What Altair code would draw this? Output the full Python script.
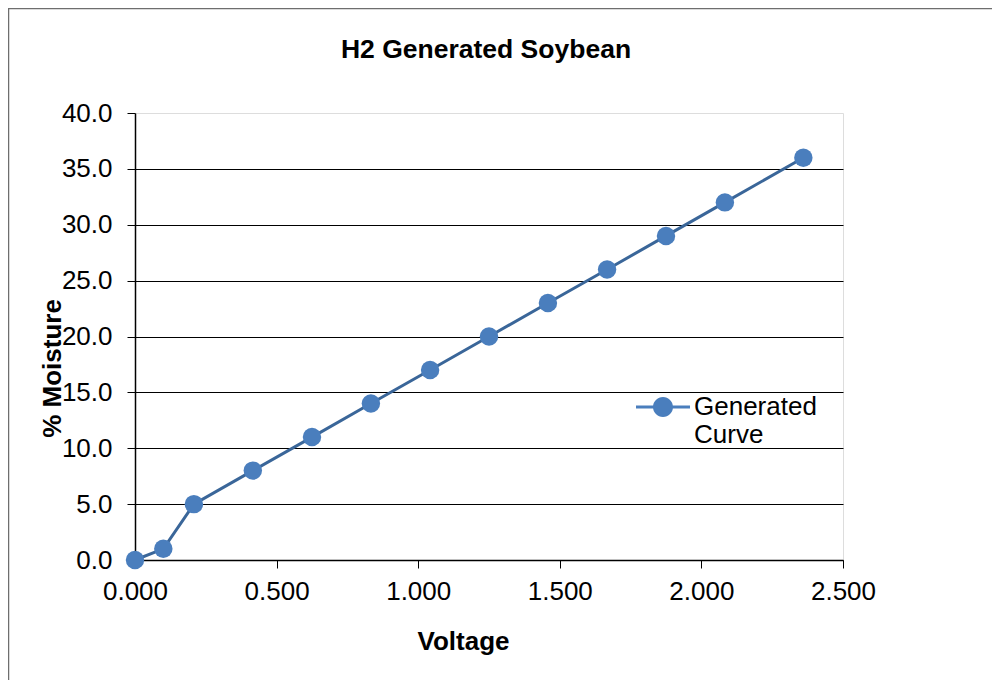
import altair as alt
import pandas as pd

# ---- data ----
voltage = [0.000, 0.100, 0.208, 0.416, 0.625, 0.833, 1.042, 1.250, 1.458, 1.667, 1.875, 2.083, 2.360]
moisture = [0, 1, 5, 8, 11, 14, 17, 20, 23, 26, 29, 32, 36]
series_name = "Generated Curve"
y_ticks = [0, 5, 10, 15, 20, 25, 30, 35, 40]
x_ticks = [0.0, 0.5, 1.0, 1.5, 2.0, 2.5]

df = pd.DataFrame({"Voltage": voltage, "Moisture": moisture,
                   "Series": [series_name] * len(voltage)})

FONT = "Liberation Sans"
LINE_COLOR = "#3A6699"
MARKER_COLOR = "#4A7EBD"
W, H = 708, 447

xs = alt.Scale(domain=[0, 2.5], nice=False, zero=False)
ys = alt.Scale(domain=[0, 40], nice=False)

x_axis = alt.Axis(values=x_ticks, format=".3f", grid=False, labelFlush=False,
                  labelFont=FONT, labelFontSize=26, labelColor="black",
                  labelPadding=10, tickSize=8, tickColor="black", tickWidth=1,
                  domainColor="black", domainWidth=1.5,
                  titleFont=FONT, titleFontSize=26, titleFontWeight="bold",
                  titleColor="black", titlePadding=24, titleX=328, titleAlign="center")
y_axis = alt.Axis(values=y_ticks, format=".1f", labelFlush=False,
                  grid=True, gridColor="black", gridWidth=1,
                  gridOpacity=alt.condition("datum.value >= 40", alt.value(0), alt.value(1)),
                  labelFont=FONT, labelFontSize=26, labelColor="black",
                  labelPadding=15, tickSize=8, tickColor="black", tickWidth=1,
                  domainColor="black", domainWidth=1.5,
                  titleFont=FONT, titleFontSize=26, titleFontWeight="bold",
                  titleColor="black", titleAngle=-90, titleAlign="center",
                  titleBaseline="alphabetic", titleX=-75, titleY=255)

base = alt.Chart(df)

line = base.mark_line(color=LINE_COLOR, strokeWidth=3).encode(
    x=alt.X("Voltage:Q", scale=xs, axis=x_axis, title="Voltage"),
    y=alt.Y("Moisture:Q", scale=ys, axis=y_axis, title="% Moisture"),
)

legend_path = ("M-1,-0.055H1V0.055H-1Z "
               "M0.37,0A0.37,0.37 0 1,1 -0.37,0A0.37,0.37 0 1,1 0.37,0Z")

points = base.mark_circle(size=340, opacity=1).encode(
    x=alt.X("Voltage:Q", scale=xs),
    y=alt.Y("Moisture:Q", scale=ys),
    color=alt.Color("Series:N", scale=alt.Scale(range=[MARKER_COLOR]),
                    legend=alt.Legend(title=None, orient="none", legendX=501, legendY=267,
                                      symbolType=legend_path, symbolSize=2916,
                                      symbolStrokeWidth=0, symbolOpacity=1,
                                      labelFont=FONT, labelFontSize=26, labelColor="black",
                                      labelExpr="split(datum.label, ' ')",
                                      labelBaseline="middle", labelOffset=4,
                                      labelLimit=0, padding=0)),
)

frame_df = pd.DataFrame({"k": [0]})
frame_left = alt.Chart(frame_df).mark_rule(color="#6E6E6E", strokeWidth=1.5).encode(
    x=alt.value(-126.5), y=alt.value(-105), y2=alt.value(570))
frame_top = alt.Chart(frame_df).mark_rule(color="#6E6E6E", strokeWidth=1.5).encode(
    x=alt.value(-127), x2=alt.value(857), y=alt.value(-104.5))

chart = alt.layer(line, points, frame_left, frame_top).properties(
    width=W, height=H,
    title=alt.TitleParams("H2 Generated Soybean", font=FONT, fontSize=26.5,
                          fontWeight="bold", color="black", anchor="middle",
                          frame="group", baseline="alphabetic", offset=-77, dx=-3),
    autosize=alt.AutoSizeParams(type="none"),
    padding={"left": 127, "top": 105, "right": 149, "bottom": 120},
).configure_view(
    fill="#C0C0C0", stroke="#7F7F7F", strokeWidth=2.5
).configure(background="white")

chart.save("out.html", embed_options={"renderer": "svg", "actions": False})
